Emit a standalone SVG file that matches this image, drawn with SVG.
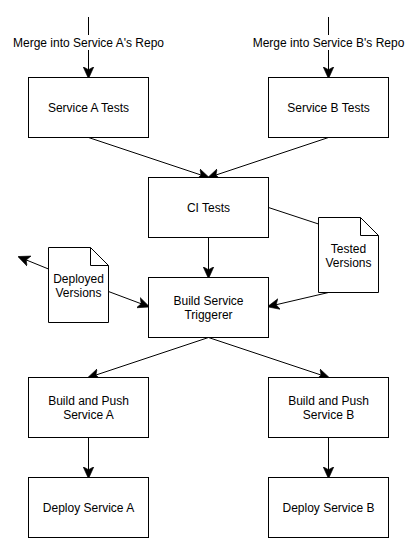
<svg xmlns="http://www.w3.org/2000/svg" width="413" height="548" viewBox="0 0 413 548">
<style>
.box{fill:#fff;stroke:#000;stroke-width:1}
.t{font-family:"Liberation Sans",Arial,Helvetica,sans-serif;font-size:12px;fill:#000;text-anchor:middle}
.e{fill:none;stroke:#000;stroke-width:1}
.a{marker-end:url(#arr)}
</style>
<defs>
<marker id="arr" markerUnits="userSpaceOnUse" markerWidth="12" markerHeight="12" viewBox="0 0 10 10" refX="9" refY="5" orient="auto">
<path d="M0,0.5 L10,5 L0,9.5 L2.5,5 Z" fill="#000" stroke="#000" stroke-width="0.5"/>
</marker>
</defs>
<rect width="413" height="548" fill="#fff"/>
<g id="connectors">
<path class="e a" d="M88.5,17 V77.5"/>
<path class="e a" d="M328.5,17 V77.5"/>
<path class="e a" d="M88.5,137.5 L208.5,177.5"/>
<path class="e a" d="M328.5,137.5 L208.5,177.5"/>
<path class="e a" d="M208.5,237.5 V277.5"/>
<path class="e" d="M268.5,207.5 L318.5,224"/>
<path class="e a" d="M328.5,292.5 L268.5,306.5"/>
<path class="e a" d="M108.5,291.5 L148.5,306.5"/>
<path class="e a" d="M48.5,269 L19,257"/>
<path class="e a" d="M208.5,337.5 L88.5,377.5"/>
<path class="e a" d="M208.5,337.5 L328.5,377.5"/>
<path class="e a" d="M88.5,437.5 V477.5"/>
<path class="e a" d="M328.5,437.5 V477.5"/>
<rect x="10" y="35" width="157" height="15" fill="#fff"/>
<rect x="250" y="35" width="157" height="15" fill="#fff"/>
<text class="t" x="88.5" y="47">Merge into Service A's Repo</text>
<text class="t" x="328.5" y="47">Merge into Service B's Repo</text>
</g>
<g id="service-a-tests"><rect class="box" x="28.5" y="77.5" width="120" height="60"/><text class="t" x="88.5" y="112">Service A Tests</text></g>
<g id="service-b-tests"><rect class="box" x="268.5" y="77.5" width="120" height="60"/><text class="t" x="328.5" y="112">Service B Tests</text></g>
<g id="ci-tests"><rect class="box" x="148.5" y="177.5" width="120" height="60"/><text class="t" x="208.5" y="211.5">CI Tests</text></g>
<g id="build-service-triggerer"><rect class="box" x="148.5" y="277.5" width="120" height="60"/><text class="t" x="208.5" y="305">Build Service</text><text class="t" x="208.5" y="319">Triggerer</text></g>
<g id="tested-versions"><path class="box" d="M318.5,217.5 H360.5 L378.5,235.5 V292.5 H318.5 Z"/><path class="e" d="M360.5,217.5 V235.5 H378.5"/><text class="t" x="348.5" y="253">Tested</text><text class="t" x="348.5" y="267">Versions</text></g>
<g id="deployed-versions"><path class="box" d="M48.5,247.5 H90.5 L108.5,265.5 V322.5 H48.5 Z"/><path class="e" d="M90.5,247.5 V265.5 H108.5"/><text class="t" x="78.5" y="283">Deployed</text><text class="t" x="78.5" y="297">Versions</text></g>
<g id="build-push-a"><rect class="box" x="28.5" y="377.5" width="120" height="60"/><text class="t" x="88.5" y="405">Build and Push</text><text class="t" x="88.5" y="419">Service A</text></g>
<g id="build-push-b"><rect class="box" x="268.5" y="377.5" width="120" height="60"/><text class="t" x="328.5" y="405">Build and Push</text><text class="t" x="328.5" y="419">Service B</text></g>
<g id="deploy-a"><rect class="box" x="28.5" y="477.5" width="120" height="60"/><text class="t" x="88.5" y="512">Deploy Service A</text></g>
<g id="deploy-b"><rect class="box" x="268.5" y="477.5" width="120" height="60"/><text class="t" x="328.5" y="512">Deploy Service B</text></g>
</svg>
